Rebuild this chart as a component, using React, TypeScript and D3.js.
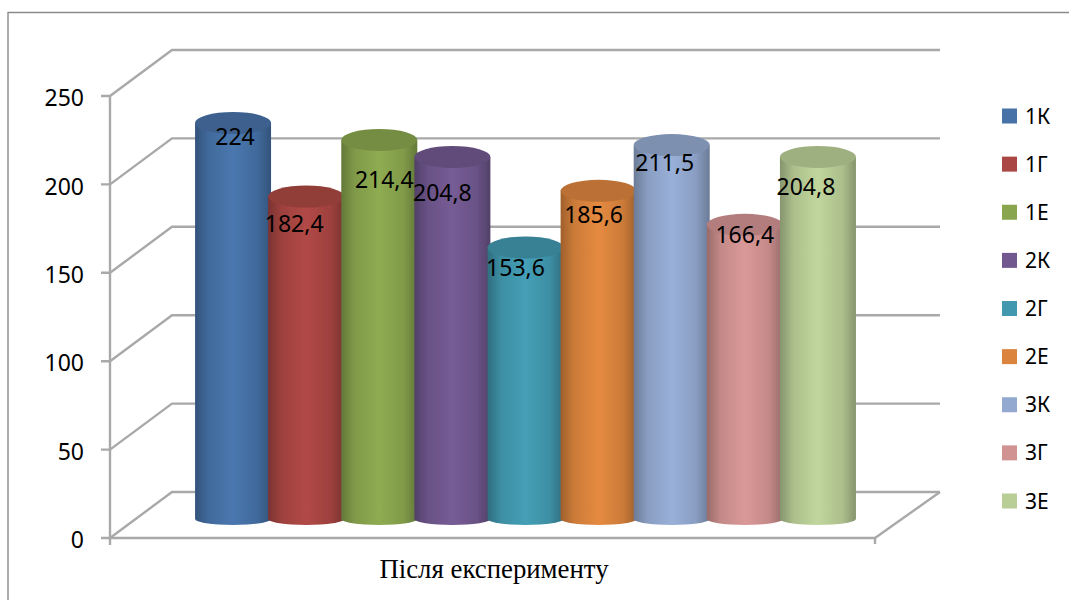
import * as d3 from 'd3'

const categories = ['1К', '1Г', '1Е', '2К', '2Г', '2Е', '3К', '3Г', '3Е']
const values = [224, 182.4, 214.4, 204.8, 153.6, 185.6, 211.5, 166.4, 204.8]
const valueLabels = ['224', '182,4', '214,4', '204,8', '153,6', '185,6', '211,5', '166,4', '204,8']
const colors = ['#4672a8', '#aa4643', '#89a54e', '#71588f', '#4198af', '#db843d', '#93a9cf', '#d19392', '#b9cd96']
const yTicks = [0, 50, 100, 150, 200, 250]
const axisTitle = 'Після експерименту'

// data labels were moved by hand in the original chart
const labelDx = [2, -12, 5, -10, -10, -5, -7, 0, -12]
const labelDy = [15, 28, 41, 37, 21, 25, 19, 11, 31]

const width = 1069
const height = 600
const depthX = 62
const depthY = -46
const frontLeft = 110
const frontRight = 875
const barWidth = 76
const topRy = 11
const bottomRy = 6
const barLift = 19

export default function App() {
    const y = d3.scaleLinear().domain([0, 250]).range([538, 96])
    const x = d3.scaleBand<string>().domain(categories).range([196.5, 854.5])
    const legendY = d3.scalePoint<string>().domain(categories).range([116, 501])
    const gridColor = '#a9a9a9'

    return (
        <svg
            width={width}
            height={height}
            style={{ position: 'absolute', left: 0, top: 0, background: '#fff' }}
        >
            <defs>
                <filter id="soft" x="-5%" y="-5%" width="110%" height="110%">
                    <feGaussianBlur stdDeviation="0.6" />
                </filter>
                {colors.map((c, i) => {
                    const col = d3.color(c)!
                    return (
                        <linearGradient id={`bar${i}`} key={i} x1="0" x2="1" y1="0" y2="0">
                            <stop offset="0" stopColor={col.darker(0.9).formatHex()} />
                            <stop offset="0.18" stopColor={col.darker(0.2).formatHex()} />
                            <stop offset="0.5" stopColor={col.brighter(0.12).formatHex()} />
                            <stop offset="0.82" stopColor={col.darker(0.2).formatHex()} />
                            <stop offset="1" stopColor={col.darker(0.9).formatHex()} />
                        </linearGradient>
                    )
                })}
            </defs>

            {/* outer frame, cropped by the picture on the right and bottom */}
            <path d={`M8,${height}V12.5H${width}`} fill="none" stroke="#8a8a8a" strokeWidth={1.4} />

            <g filter="url(#soft)" fill="none" stroke={gridColor} strokeWidth={2.4}>
                {yTicks.map((t) => (
                    <path
                        key={t}
                        d={`M${frontLeft - 9},${y(t)}H${frontLeft}L${frontLeft + depthX},${y(t) + depthY}H${940}`}
                    />
                ))}
                <path d={`M${frontLeft},${y(250)}V${y(0) + 7}`} />
                <path d={`M${frontLeft},${y(0)}H${frontRight}V${y(0) + 6}`} />
                <path d={`M${frontRight},${y(0)}L${frontRight + 65},${y(0) + depthY}`} />
            </g>

            <g filter="url(#soft)">
                {categories.map((c, i) => {
                    const cx = x(c)! + x.bandwidth() / 2
                    const rx = barWidth / 2
                    const top = y(values[i]) - barLift
                    const bottom = y(0) - barLift
                    const col = d3.color(colors[i])!
                    return (
                        <g key={c}>
                            <path
                                d={`M${cx - rx},${top}V${bottom}A${rx},${bottomRy} 0 0 0 ${cx + rx},${bottom}V${top}Z`}
                                fill={`url(#bar${i})`}
                            />
                            <ellipse
                                cx={cx}
                                cy={top}
                                rx={rx}
                                ry={topRy}
                                fill={col.darker(0.45).formatHex()}
                            />
                        </g>
                    )
                })}
            </g>

            <g fontFamily="'Noto Sans'" fontSize={23} fill="#000" textAnchor="middle">
                {categories.map((c, i) => (
                    <text
                        key={c}
                        x={x(c)! + x.bandwidth() / 2 + labelDx[i]}
                        y={y(values[i]) - barLift - 1 + labelDy[i]}
                        dy="0.36em"
                    >
                        {valueLabels[i]}
                    </text>
                ))}
            </g>

            <g fontFamily="'Noto Sans'" fontSize={23} fill="#000" textAnchor="end">
                {yTicks.map((t) => (
                    <text key={t} x={84} y={y(t) + 2} dy="0.36em">
                        {t}
                    </text>
                ))}
            </g>

            <g fontFamily="'Noto Sans'" fontSize={21} fill="#000">
                {categories.map((c, i) => (
                    <g key={c} transform={`translate(1002,${legendY(c)})`}>
                        <rect y={-7.5} width={15} height={15} fill={colors[i]} />
                        <text x={23} dy="0.36em">
                            {c}
                        </text>
                    </g>
                ))}
            </g>

            <text
                x={494}
                y={578}
                textAnchor="middle"
                fontFamily="'Liberation Serif'"
                fontSize={26.8}
                fill="#000"
            >
                {axisTitle}
            </text>
        </svg>
    )
}
